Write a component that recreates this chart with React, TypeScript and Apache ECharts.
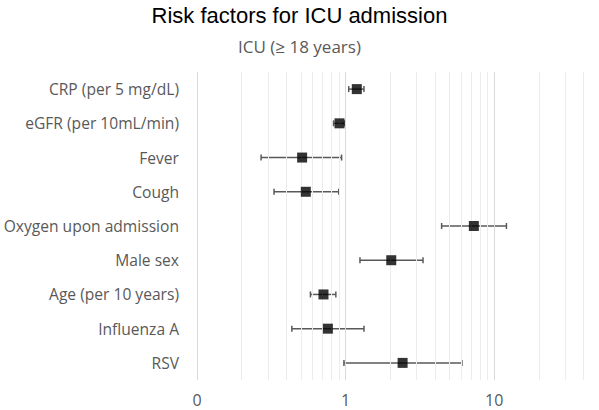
import React, { useEffect, useRef } from "react";
import * as echarts from "echarts";

const categories = [
  "CRP (per 5 mg/dL)",
  "eGFR (per 10mL/min)",
  "Fever",
  "Cough",
  "Oxygen upon admission",
  "Male sex",
  "Age (per 10 years)",
  "Influenza A",
  "RSV",
];
const oddsRatio = [1.19, 0.91, 0.51, 0.54, 7.3, 2.03, 0.71, 0.76, 2.42];
const ciLow = [1.05, 0.83, 0.27, 0.33, 4.43, 1.25, 0.58, 0.435, 0.975];
const ciHigh = [1.33, 0.985, 0.94, 0.9, 12.1, 3.32, 0.86, 1.33, 6.07];
const majorGrid = [0.1, 1, 10];
const minorGrid = [0.2, 0.3, 0.4, 0.5, 0.6, 0.7, 0.8, 0.9, 2, 3, 4, 5, 6, 7, 8, 9, 20, 30, 40];

const LABEL_FONT = "'Open Sans', sans-serif";

export default function App() {
  const ref = useRef<HTMLDivElement>(null);
  useEffect(() => {
    document.body.style.margin = "0";
    const chart = echarts.init(ref.current!, null, { renderer: "svg" });
    const errData = categories.map((_, i) => [ciLow[i], ciHigh[i], i]);
    const ptData = categories.map((_, i) => [oddsRatio[i], i]);
    chart.setOption({
      animation: false,
      title: [
        {
          text: "Risk factors for ICU admission",
          left: "center",
          top: -1,
          textStyle: { fontFamily: "'Liberation Sans', Arial, sans-serif", fontSize: 22, fontWeight: "normal", color: "#000" },
        },
        {
          text: "ICU (≥ 18 years)",
          left: "center",
          top: 33,
          textStyle: { fontFamily: LABEL_FONT, fontSize: 17, fontWeight: "normal", color: "#595959" },
        },
      ],
      grid: { left: 197, right: 1, top: 72, bottom: 30, containLabel: false, outerBoundsMode: "none" },
      xAxis: {
        type: "log",
        logBase: 10,
        min: 0.1,
        max: 50,
        axisLine: { show: false },
        axisTick: { show: false },
        splitLine: { show: false },
        axisLabel: {
          margin: 12,
          color: "#595959",
          fontSize: 16,
          fontFamily: LABEL_FONT,
          showMaxLabel: false,
          formatter: (v: number) => {
            const l = Math.log10(v);
            if (Math.abs(l - Math.round(l)) > 1e-6) return "";
            return v < 1 ? "0" : String(Math.round(v));
          },
        },
      },
      yAxis: {
        type: "category",
        data: categories,
        inverse: true,
        axisLine: { show: false },
        axisTick: { show: false },
        splitLine: { show: false },
        axisLabel: { margin: 18, color: "#595959", fontSize: 15.6, fontFamily: LABEL_FONT },
      },
      series: [
        {
          type: "custom",
          silent: true,
          encode: { x: [0, 1], y: 2 },
          data: errData,
          renderItem: (params: any, api: any) => {
            const y = api.value(2);
            const p1 = api.coord([api.value(0), y]);
            const p2 = api.coord([api.value(1), y]);
            const h = 3;
            const st = { stroke: "#595959", lineWidth: 1.5 };
            return {
              type: "group",
              children: [
                { type: "line", shape: { x1: p1[0], y1: p1[1], x2: p2[0], y2: p2[1] }, style: st },
                { type: "line", shape: { x1: p1[0], y1: p1[1] - h, x2: p1[0], y2: p1[1] + h }, style: st },
                { type: "line", shape: { x1: p2[0], y1: p2[1] - h, x2: p2[0], y2: p2[1] + h }, style: st },
              ],
            };
          },
          z: 1,
        },
        {
          type: "scatter",
          data: ptData,
          symbol: "rect",
          symbolSize: 10,
          itemStyle: { color: "#000" },
          z: 10,
          markLine: {
            silent: true,
            symbol: "none",
            label: { show: false },
            lineStyle: { color: "#ececec", width: 1, type: "solid" },
            data: [
              ...minorGrid.map((v) => ({ xAxis: v })),
              ...majorGrid.map((v) => ({ xAxis: v, lineStyle: { color: "#d9d9d9", width: 1, type: "solid" } })),
            ],
          },
        },
      ],
    });
    return () => chart.dispose();
  }, []);
  return <div ref={ref} style={{ width: 599, height: 410 }} />;
}
